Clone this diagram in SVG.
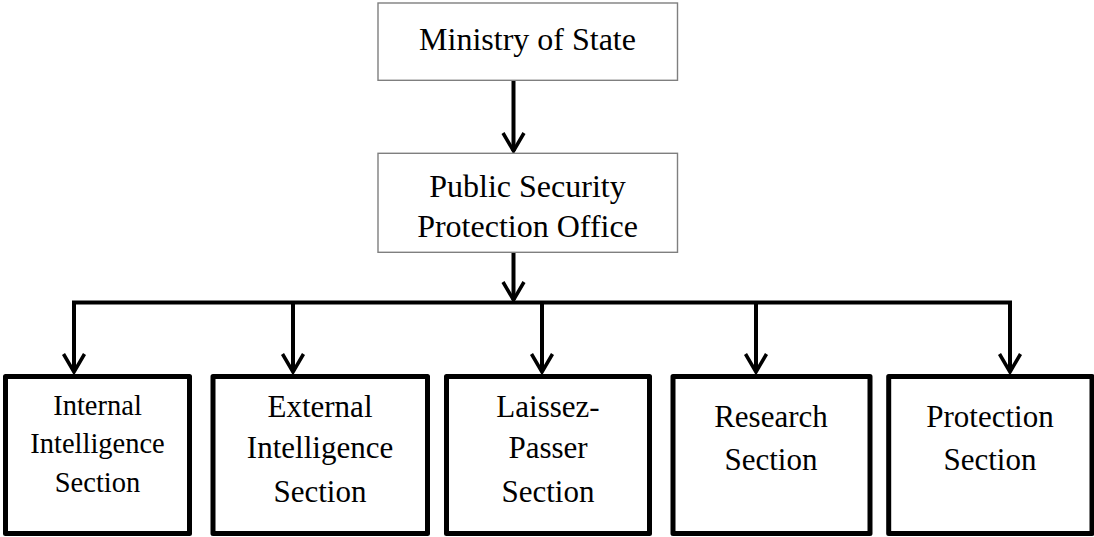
<svg xmlns="http://www.w3.org/2000/svg" width="1094" height="537" viewBox="0 0 1094 537">
<defs>
<style>
.thin{fill:#fff;stroke:#7f7f7f;stroke-width:1.4}
.thick{fill:#fff;stroke:#000;stroke-width:5;stroke-linejoin:round}
.conn{fill:none;stroke:#000;stroke-width:4}
.head{fill:none;stroke:#000;stroke-width:3.5;stroke-linejoin:miter}
.lbl{fill:#000;text-anchor:middle}
.t32{font-size:32px}
.t31{font-size:31px}
.t28{font-size:28.5px}
</style>
</defs>
<rect width="1094" height="537" fill="#fff"/>
<g id="connectors">
<line class="conn" x1="513.5" y1="80" x2="513.5" y2="151"/>
<polyline class="head" points="503,133 513.5,151 524,133"/>
<line class="conn" x1="513.5" y1="252.5" x2="513.5" y2="300"/>
<polyline class="head" points="503,282 513.5,300 524,282"/>
<polyline class="conn" points="74,372 74,302.5 1010,302.5 1010,372"/>
<line class="conn" x1="293" y1="302.5" x2="293" y2="372"/>
<line class="conn" x1="542" y1="302.5" x2="542" y2="372"/>
<line class="conn" x1="756" y1="302.5" x2="756" y2="372"/>
<polyline class="head" points="63.5,354 74,372 84.5,354"/>
<polyline class="head" points="282.5,354 293,372 303.5,354"/>
<polyline class="head" points="531.5,354 542,372 552.5,354"/>
<polyline class="head" points="745.5,354 756,372 766.5,354"/>
<polyline class="head" points="999.5,354 1010,372 1020.5,354"/>
</g>
<g font-family="Liberation Serif, DejaVu Serif, serif">
<g id="ministry">
<rect class="thin" x="378" y="3" width="299.5" height="77.3"/>
<text class="lbl t32" x="527.5" y="50">Ministry of State</text>
</g>
<g id="pspo">
<rect class="thin" x="378" y="153.3" width="299.5" height="99"/>
<text class="lbl t32" x="527.5" y="196.7">Public Security</text>
<text class="lbl t32" x="527.5" y="236.7">Protection Office</text>
</g>
<g id="internal">
<rect class="thick" x="5.5" y="376.5" width="184" height="157"/>
<text class="lbl t28" x="97.5" y="415">Internal</text>
<text class="lbl t28" x="97.5" y="453.3">Intelligence</text>
<text class="lbl t28" x="97.5" y="491.7">Section</text>
</g>
<g id="external">
<rect class="thick" x="213" y="376.5" width="214.5" height="157"/>
<text class="lbl t31" x="320" y="416.7">External</text>
<text class="lbl t31" x="320" y="458.3">Intelligence</text>
<text class="lbl t31" x="320" y="501.7">Section</text>
</g>
<g id="laissez">
<rect class="thick" x="446.5" y="376.5" width="203" height="157"/>
<text class="lbl t31" x="548" y="416.7">Laissez-</text>
<text class="lbl t31" x="548" y="458">Passer</text>
<text class="lbl t31" x="548" y="501.7">Section</text>
</g>
<g id="research">
<rect class="thick" x="673" y="376.5" width="197" height="157"/>
<text class="lbl t31" x="771" y="427.3">Research</text>
<text class="lbl t31" x="771" y="470">Section</text>
</g>
<g id="protection">
<rect class="thick" x="888.7" y="376.5" width="203.3" height="157"/>
<text class="lbl t31" x="990" y="427.3">Protection</text>
<text class="lbl t31" x="990" y="470">Section</text>
</g>
</g>
</svg>
